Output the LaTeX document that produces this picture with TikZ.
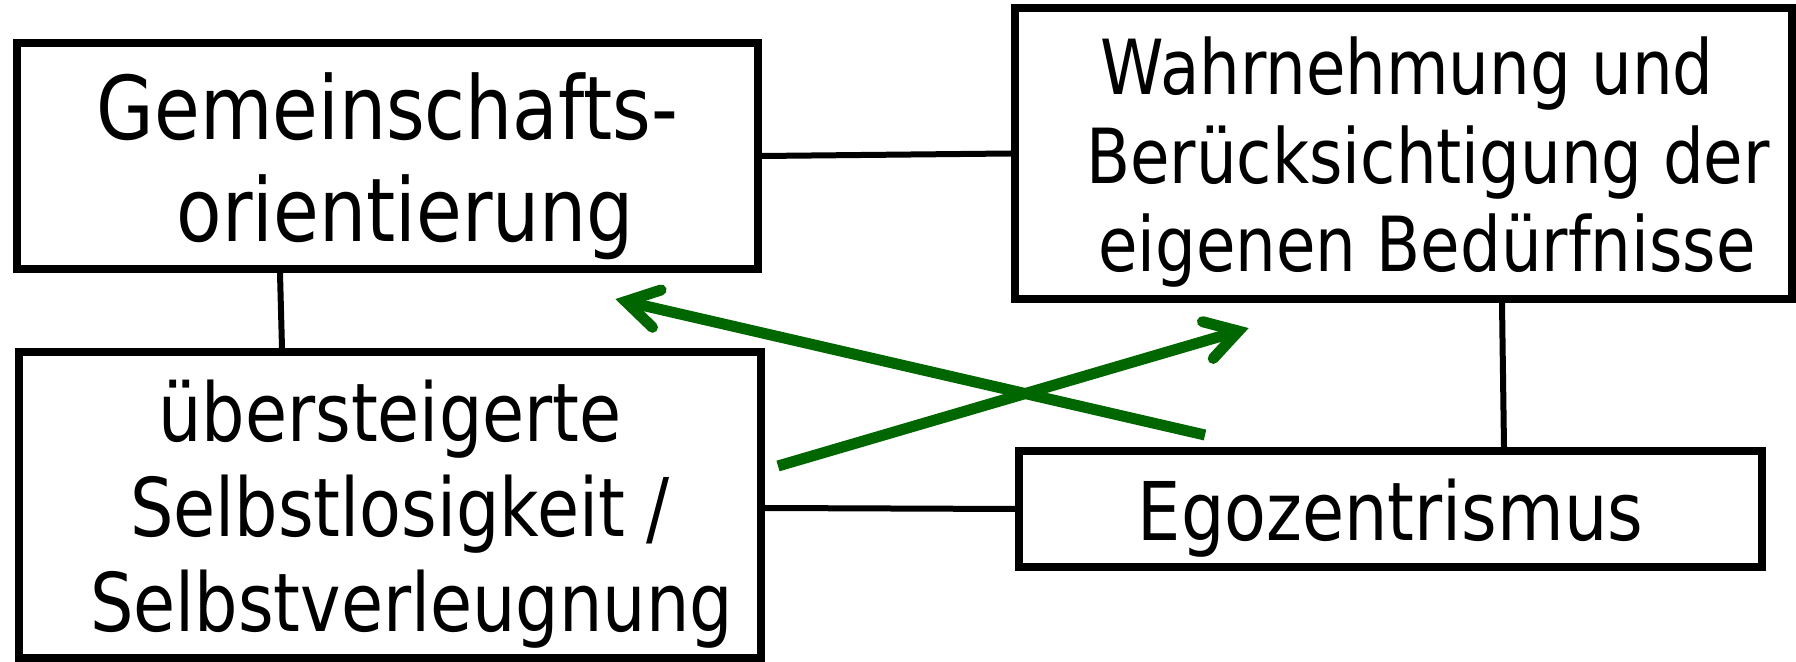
\documentclass[tikz,border=0pt]{standalone}
\usepackage{fontspec}
\setmainfont{DejaVu Sans}[FakeStretch=0.845]
\usetikzlibrary{calc}
\definecolor{arrowgreen}{RGB}{0,102,0}
% invisible rules that fix the height of the first and the depth of the last line
\newcommand\boxtop[1]{\rule{0pt}{#1}}
\newcommand\boxbot[1]{\rule[-#1]{0pt}{#1}}

\begin{document}
\begin{tikzpicture}[x=0.5pt,y=-0.5pt,
  termbox/.style={draw=black, line width=4pt, fill=white, inner sep=0pt, align=center, text=black},
  link/.style={draw=black, line width=3pt},
  flow/.style={draw=arrowgreen, line width=5.5pt},
  barb/.style={draw=arrowgreen, line width=5.5pt, line cap=round, line join=miter}]
\useasboundingbox (0,0) rectangle (1796,662);

% the four terms
\node[termbox, minimum width=370.5pt, minimum height=113pt,
      font=\fontsize{44pt}{51pt}\selectfont] (gem) at (387.5,156)
  {\boxtop{47pt}Gemeinschafts-\\\hspace*{18pt}orientierung\boxbot{12pt}};
\node[termbox, minimum width=388.5pt, minimum height=145.5pt,
      font=\fontsize{38pt}{44.25pt}\selectfont] (wahr) at (1403.5,153.5)
  {\boxtop{40pt}\hspace*{3.5pt}Wahrnehmung und\\\hspace*{24.5pt}Berücksichtigung der\\\hspace*{23.5pt}eigenen Bedürfnisse\boxbot{10pt}};
\node[termbox, minimum width=371pt, minimum height=153pt,
      font=\fontsize{40.5pt}{47.5pt}\selectfont] (selbst) at (390,505)
  {\boxtop{43pt}übersteigerte\\\hspace*{10pt}Selbstlosigkeit /\\\hspace*{21.5pt}Selbstverleugnung\boxbot{11pt}};
\node[termbox, minimum width=371.5pt, minimum height=58pt,
      font=\fontsize{40.5pt}{48pt}\selectfont] (ego) at (1390.5,509)
  {\boxtop{42pt}Egozentrismus\boxbot{10pt}};

% square of relations
\draw[link] (gem.east) -- (wahr.west);
\draw[link] ([xshift=-53.75pt]gem.south) -- ([xshift=-54pt]selbst.north);
\draw[link] ([yshift=-1.5pt]selbst.east) -- (ego.west);
\draw[link] ([xshift=49.25pt]wahr.south) -- ([xshift=56.75pt]ego.north);

% crossing arrows
\coordinate (egoTail) at (1205,435);
\coordinate (gemTip) at (615,299);
\coordinate (selbstTail) at (778,466);
\coordinate (wahrTip) at (1249,328);
\coordinate (gemV) at ($(gemTip)!5.5pt!(egoTail)$);
\coordinate (wahrV) at ($(wahrTip)!5.5pt!(selbstTail)$);

\draw[flow] (egoTail) -- (gemV);
\draw[barb] ($(gemV)!18.6pt!31:(egoTail)$) -- (gemV) -- ($(gemV)!18.6pt!-31:(egoTail)$);
\draw[flow] (selbstTail) -- (wahrV);
\draw[barb] ($(wahrV)!18.6pt!31:(selbstTail)$) -- (wahrV) -- ($(wahrV)!18.6pt!-31:(selbstTail)$);
\end{tikzpicture}
\end{document}
